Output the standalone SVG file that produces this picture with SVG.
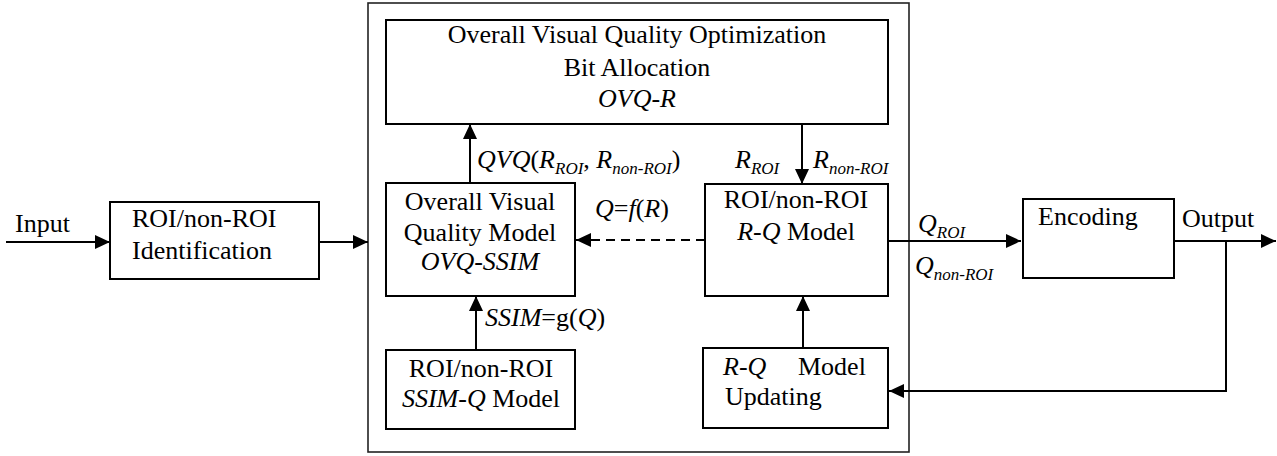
<svg xmlns="http://www.w3.org/2000/svg" width="1277" height="456" viewBox="0 0 1277 456">
<defs>
<style>
text{font-family:"Liberation Serif","Times New Roman",serif;font-size:26px;fill:#000}
.i{font-style:italic}
.s{font-size:17px;font-style:italic}
.c{text-anchor:middle}
.box{fill:#fff;stroke:#000;stroke-width:2}
.outer{fill:none;stroke:#222;stroke-width:1.6}
.ln{fill:none;stroke:#000;stroke-width:2}
.dash{stroke-dasharray:9 6}
</style>
<marker id="ah" markerUnits="userSpaceOnUse" markerWidth="16" markerHeight="14" refX="15" refY="7" orient="auto">
<path d="M0,0 L15,7 L0,14 Z" fill="#000"/>
</marker>
</defs>
<rect id="outer" class="outer" x="368" y="3" width="541" height="449"/>
<g id="connectors">
<line class="ln" x1="6" y1="242" x2="110" y2="242" marker-end="url(#ah)"/>
<line class="ln" x1="319" y1="242" x2="368" y2="242" marker-end="url(#ah)"/>
<line class="ln" x1="470" y1="183" x2="470" y2="124" marker-end="url(#ah)"/>
<line class="ln" x1="802" y1="124" x2="802" y2="184" marker-end="url(#ah)"/>
<line class="ln dash" x1="705" y1="240" x2="576" y2="240" marker-end="url(#ah)"/>
<line class="ln" x1="476" y1="350" x2="476" y2="296" marker-end="url(#ah)"/>
<line class="ln" x1="803" y1="348" x2="803" y2="296" marker-end="url(#ah)"/>
<line class="ln" x1="888" y1="241" x2="1021" y2="241" marker-end="url(#ah)"/>
<line class="ln" x1="1174" y1="241" x2="1276" y2="241" marker-end="url(#ah)"/>
<polyline class="ln" points="1226,241 1226,391 889,391" marker-end="url(#ah)"/>
<text x="15" y="232">Input</text>
<text x="477" y="168"><tspan class="i">QVQ</tspan>(<tspan class="i">R</tspan><tspan class="s" dy="6">ROI</tspan><tspan dy="-6">, </tspan><tspan class="i">R</tspan><tspan class="s" dy="6">non-ROI</tspan><tspan dy="-6">)</tspan></text>
<text x="735" y="168"><tspan class="i">R</tspan><tspan class="s" dy="6">ROI</tspan></text>
<text x="813" y="168"><tspan class="i">R</tspan><tspan class="s" dy="6">non-ROI</tspan></text>
<text x="595" y="217"><tspan class="i">Q</tspan>=<tspan class="i">f</tspan>(<tspan class="i">R</tspan>)</text>
<text x="485" y="326"><tspan class="i">SSIM</tspan>=g(<tspan class="i">Q</tspan>)</text>
<text x="918" y="232"><tspan class="i">Q</tspan><tspan class="s" dy="6">ROI</tspan></text>
<text x="915" y="274"><tspan class="i">Q</tspan><tspan class="s" dy="6">non-ROI</tspan></text>
<text x="1182" y="227">Output</text>
</g>
<g id="roi-identification">
<rect class="box" x="110" y="202" width="209" height="77"/>
<text x="132" y="227">ROI/non-ROI</text>
<text x="132" y="259">Identification</text>
</g>
<g id="ovq-r">
<rect class="box" x="386" y="20" width="502" height="104"/>
<text class="c" x="637" y="43">Overall Visual Quality Optimization</text>
<text class="c" x="637" y="76">Bit Allocation</text>
<text class="c i" x="637" y="107">OVQ-R</text>
</g>
<g id="ovq-ssim">
<rect class="box" x="386" y="183" width="189" height="113"/>
<text class="c" x="480" y="210">Overall Visual</text>
<text class="c" x="480" y="241">Quality Model</text>
<text class="c i" x="480" y="270">OVQ-SSIM</text>
</g>
<g id="rq-model">
<rect class="box" x="705" y="184" width="183" height="112"/>
<text class="c" x="796" y="208">ROI/non-ROI</text>
<text class="c" x="796" y="240"><tspan class="i">R-Q</tspan> Model</text>
</g>
<g id="ssim-q-model">
<rect class="box" x="386" y="350" width="189" height="79"/>
<text class="c" x="481" y="377">ROI/non-ROI</text>
<text class="c" x="481" y="407"><tspan class="i">SSIM-Q</tspan> Model</text>
</g>
<g id="rq-updating">
<rect class="box" x="703" y="348" width="185" height="80"/>
<text x="723" y="375" class="i">R-Q</text>
<text x="798" y="375">Model</text>
<text x="725" y="405">Updating</text>
</g>
<g id="encoding">
<rect class="box" x="1023" y="199" width="151" height="79"/>
<text x="1038" y="225">Encoding</text>
</g>
</svg>
